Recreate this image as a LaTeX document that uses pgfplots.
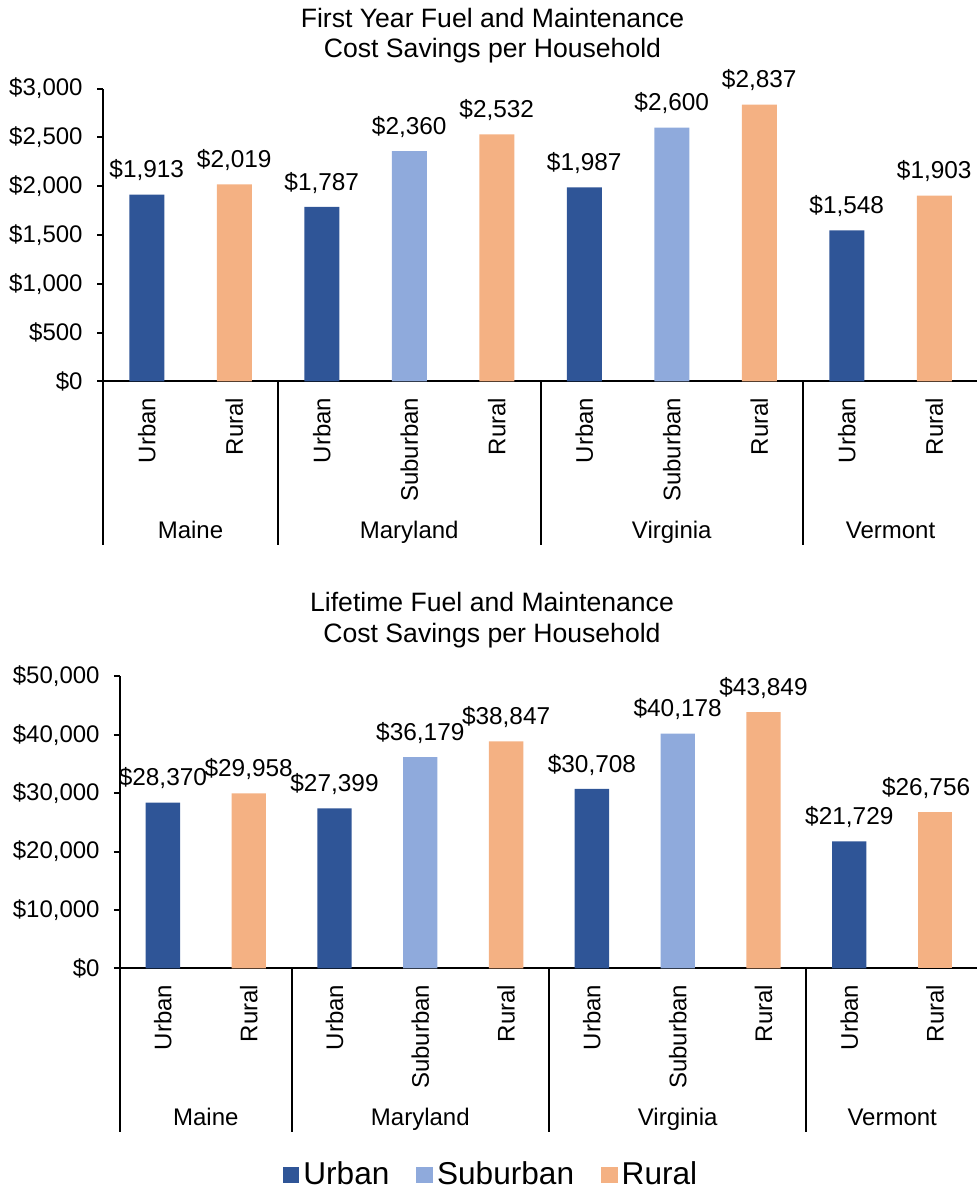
\documentclass[border=0pt]{standalone}
\usepackage{fontspec}
\setmainfont{Liberation Sans}
\usepackage{pgfplots}
\pgfplotsset{compat=1.18}
\definecolor{urban}{HTML}{2F5597}
\definecolor{suburban}{HTML}{8FAADC}
\definecolor{rural}{HTML}{F4B183}
\newcommand\tickfont{\fontsize{12}{14}\selectfont}
\newcommand\labfont{\fontsize{12.2}{14}\selectfont}
\newcommand\titlefont{\fontsize{13.3}{15}\selectfont}
\newcommand\legfont{\fontsize{15.8}{18}\selectfont}
\tikzset{grplab/.style={font=\tickfont, anchor=base, yshift=-78.5pt}}
\pgfplotsset{
  mybars/.style={
    scale only axis, clip=false,
    xmin=-0.5, xmax=9.5, ymin=0,
    axis x line=bottom, axis y line=left,
    axis line style={-, line width=1pt, black},
    xtick={0,...,9},
    xticklabels={Urban,Rural,Urban,Suburban,Rural,Urban,Suburban,Rural,Urban,Rural},
    xtick style={draw=none},
    xticklabel style={font=\tickfont, text=black, rotate=90, anchor=east, inner sep=0pt, inner xsep=5pt},
    tick align=outside,
    ytick style={line width=1pt, black},
    major tick length=3pt,
    scaled y ticks=false,
    yticklabel={\$\pgfmathprintnumber[fixed,precision=0,1000 sep={,},assume math mode=true]{\tick}},
    yticklabel style={font=\tickfont, text=black, anchor=east, inner sep=0pt, xshift=-7pt},
    nodes near coords={\$\pgfmathprintnumber[fixed,precision=0,1000 sep={,},assume math mode=true]{\pgfplotspointmeta}},
    every node near coord/.append style={font=\labfont, text=black, inner sep=0pt, anchor=south, yshift=6.7pt},
  },
  barplot/.style={ybar, bar width=0.4, bar shift=0pt, draw=none, fill=#1,
     legend image code/.code={\fill[#1] (0pt,-4.15pt) rectangle (8.3pt,4.15pt);}},
}
\begin{document}
\begin{tikzpicture}
\useasboundingbox (0pt,0pt) rectangle (488.5pt,595pt);
% titles
\node[font=\titlefont, anchor=base] at (246.25pt,581pt) {First Year Fuel and Maintenance};
\node[font=\titlefont, anchor=base] at (246.25pt,566pt) {Cost Savings per Household};
\node[font=\titlefont, anchor=base] at (246pt,289pt) {Lifetime Fuel and Maintenance};
\node[font=\titlefont, anchor=base] at (246pt,273.5pt) {Cost Savings per Household};

\begin{axis}[mybars, at={(51.5pt,404.3pt)}, anchor=south west,
  width=437.5pt, height=146.4pt, ymax=3000, ytick={0,500,...,3000}]
\addplot[barplot=urban] coordinates {(0,1913) (2,1787) (5,1987) (8,1548)};
\addplot[barplot=suburban] coordinates {(3,2360) (6,2600)};
\addplot[barplot=rural] coordinates {(1,2019) (4,2532) (7,2837) (9,1903)};
\pgfplotsinvokeforeach{-0.5,1.5,4.5,7.5}{\draw[line width=1pt] (axis cs:#1,0) -- ++(0pt,-82pt);}
\node[grplab] at (axis cs:0.5,0) {Maine};
\node[grplab] at (axis cs:3,0) {Maryland};
\node[grplab] at (axis cs:6,0) {Virginia};
\node[grplab] at (axis cs:8.5,0) {Vermont};
\end{axis}

\begin{axis}[mybars, at={(60pt,110.85pt)}, anchor=south west,
  width=429pt, height=146pt, ymax=50000, ytick={0,10000,...,50000},
  legend style={at={(axis description cs:0.4336,-0.708)}, anchor=center,
    draw=none, fill=none, font=\legfont, legend columns=-1,
    nodes={inner ysep=0pt},
    /tikz/every even column/.append style={column sep=11.5pt}}]
\addplot[barplot=urban] coordinates {(0,28370) (2,27399) (5,30708) (8,21729)};
\addlegendentry{Urban}
\addplot[barplot=suburban] coordinates {(3,36179) (6,40178)};
\addlegendentry{Suburban}
\addplot[barplot=rural] coordinates {(1,29958) (4,38847) (7,43849)};
\addlegendentry{Rural}
\addplot[barplot=rural, forget plot, every node near coord/.append style={xshift=-4.5pt}] coordinates {(9,26756)};
\pgfplotsinvokeforeach{-0.5,1.5,4.5,7.5}{\draw[line width=1pt] (axis cs:#1,0) -- ++(0pt,-82pt);}
\node[grplab] at (axis cs:0.5,0) {Maine};
\node[grplab] at (axis cs:3,0) {Maryland};
\node[grplab] at (axis cs:6,0) {Virginia};
\node[grplab] at (axis cs:8.5,0) {Vermont};
\end{axis}
\end{tikzpicture}
\end{document}
